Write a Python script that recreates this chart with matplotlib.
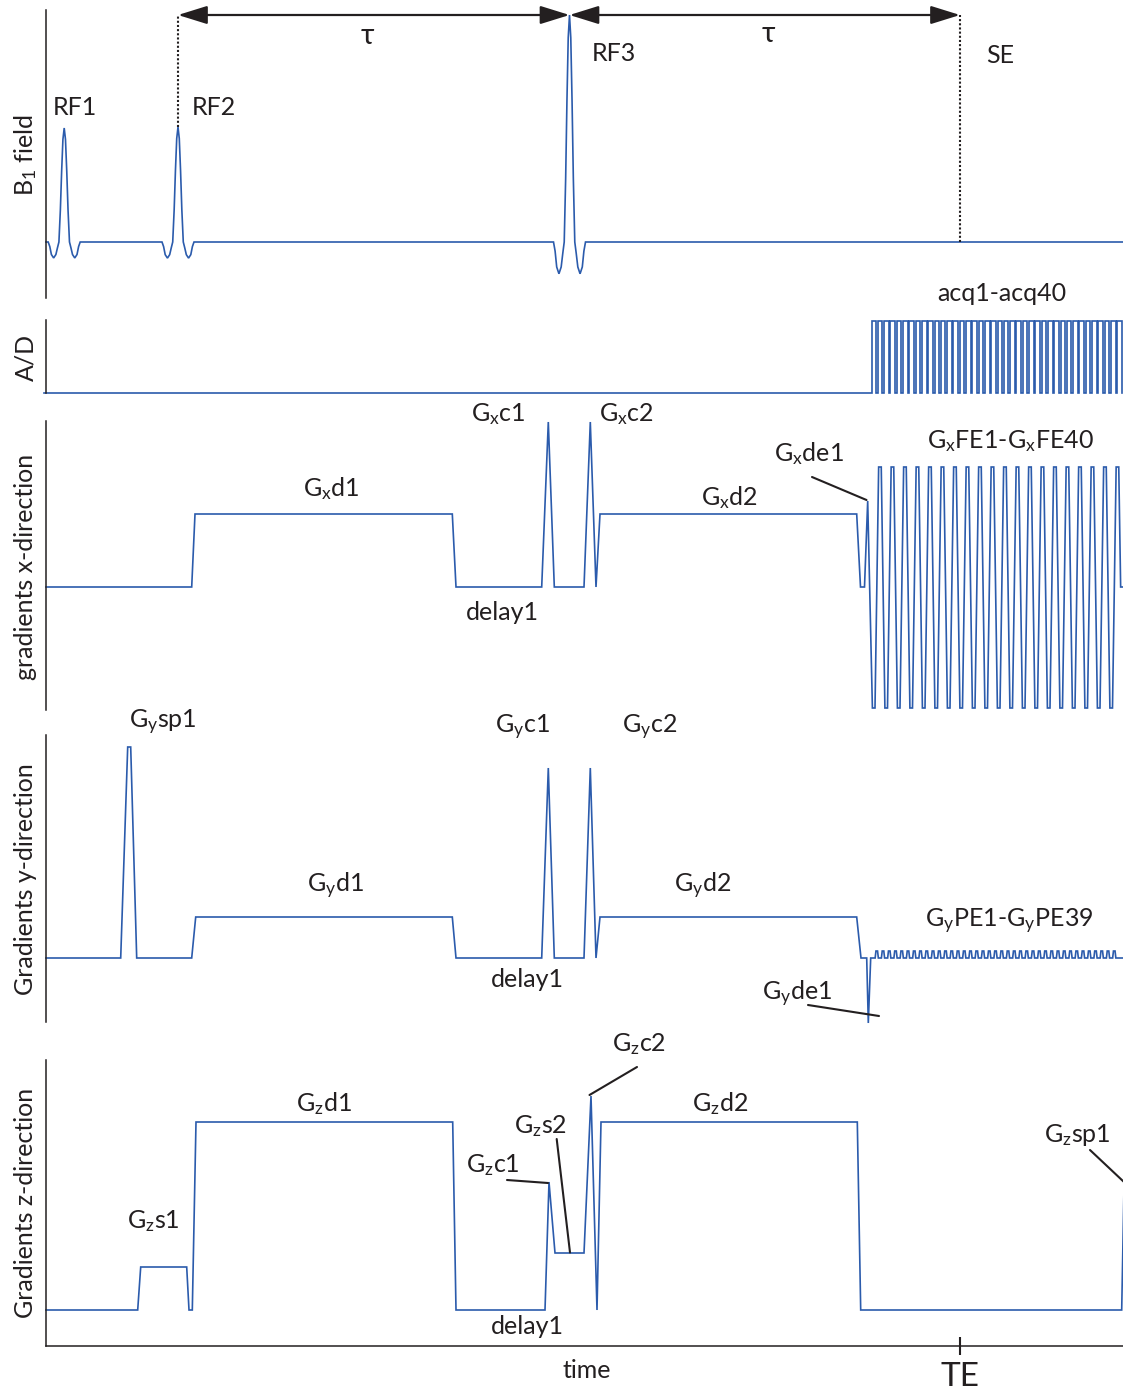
import matplotlib
matplotlib.use("Agg")
import matplotlib.pyplot as plt

plt.rcParams["font.family"] = ["Lato", "DejaVu Sans"]
plt.rcParams["mathtext.default"] = "regular"

W, H = 1123, 1390
BLUE = "#2b5bac"
INK = "#231f20"
FS = 18

# RF pulses on the B1 channel
rf_centres = [64.2, 178, 569.5]
rf_peaks = [114, 115, 227]
rf_halfwidth = 16
# normalised envelope of one truncated-sinc RF pulse
rf_env_t = [-1.0, -0.9, -0.8, -0.66, -0.52, -0.42, -0.33, -0.24, -0.16, -0.08, 0.0,
            0.08, 0.16, 0.24, 0.33, 0.42, 0.52, 0.66, 0.8, 0.9, 1.0]
rf_env_a = [0.0, -0.04, -0.11, -0.14, -0.11, -0.05, 0.0, 0.28, 0.62, 0.9, 1.0,
            0.9, 0.62, 0.28, 0.0, -0.05, -0.11, -0.14, -0.11, -0.04, 0.0]
tau_marks = [178, 569.5, 960]

# A/D gates acq1..acq40
n_acq = 40
acq_start = 871.5
acq_step = 6.3
acq_on = 4.6
acq_level = 72

# x gradient: breakpoints up to the dephaser, then the EPI readout train
gx_t = [46, 191.7, 195, 452.3, 456, 541.7, 548.3, 554.3, 584, 590.3, 596, 600,
        856.7, 860.5, 864.5, 867.7]
gx_a = [0, 0, 73, 73, 0, 0, 165, 0, 0, 165, 0, 73, 73, 0, 0, 86]
n_fe = 40
fe_start = 873.7
fe_step = 6.25
fe_flat = 1.3
fe_pos, fe_neg = 120, -121

# y gradient: spoiler, dephasers, crushers, then phase-encode blips
gy_t = [46, 120.7, 127.7, 130.7, 136.7, 191.7, 195.7, 452.3, 456, 541.7, 548.3,
        554.3, 584, 590.3, 596, 600, 856.7, 861, 866.7, 868.3, 870.7, 875]
gy_a = [0, 0, 211, 211, 0, 0, 41, 41, 0, 0, 190, 0, 0, 190, 0, 41, 41, 0, 0,
        -65, 0, 0]
n_pe = 39
pe_start = 876.75
pe_step = 6.25
pe_amp = 7

# z gradient
gz_t = [46, 137.7, 140.7, 186.7, 189, 192.3, 196, 452.7, 456, 545, 549, 555,
        584, 591, 597, 601, 857.3, 860.7, 1121.7, 1124.5]
gz_a = [0, 0, 43, 43, 0, 0, 188, 188, 0, 0, 128, 57, 57, 214, 0, 188, 188, 0,
        0, 150]

TE = 960

fig = plt.figure(figsize=(W / 100, H / 100), dpi=100)


def add_panel(top, bottom, base):
    ax = fig.add_axes([46 / W, 1 - bottom / H, (W - 46) / W, (bottom - top) / H])
    ax.set_xlim(46, W)
    ax.set_ylim(base - bottom, base - top)
    for side in ("top", "right", "bottom"):
        ax.spines[side].set_visible(False)
    ax.spines["left"].set_linewidth(1.1)
    ax.spines["left"].set_color(INK)
    ax.set_xticks([])
    ax.set_yticks([])
    ax.patch.set_visible(False)
    return ax


def trace(ax, t, a):
    ax.plot(t, a, color=BLUE, lw=1.2, clip_on=False, solid_joinstyle="miter")


def label(ax, x, y, s, size=FS):
    ax.text(x, y, s, fontsize=size, color=INK, ha="center", va="baseline")


def leader(ax, start, end):
    ax.annotate("", xy=end, xytext=start,
                arrowprops=dict(arrowstyle="-", color=INK, lw=1.5,
                                shrinkA=0, shrinkB=0),
                annotation_clip=False)


ax_b1 = add_panel(10, 298, 242)
ax_ad = add_panel(320, 393, 393)
ax_gx = add_panel(421, 710, 587)
ax_gy = add_panel(735, 1022, 958)
ax_gz = add_panel(1060, 1346, 1310)

# --- B1 field ---
b1_t, b1_a = [46], [0]
for c, p in zip(rf_centres, rf_peaks):
    b1_t += [c + rf_halfwidth * u for u in rf_env_t]
    b1_a += [p * v for v in rf_env_a]
b1_t.append(W)
b1_a.append(0)
trace(ax_b1, b1_t, b1_a)

top = rf_peaks[2]
ax_b1.plot([tau_marks[0]] * 2, [rf_peaks[1], top], color=INK, lw=1.5,
           ls=(0, (1, 1)), clip_on=False)
ax_b1.plot([tau_marks[2]] * 2, [0, top], color=INK, lw=1.5,
           ls=(0, (1, 1)), clip_on=False)
for a, b in zip(tau_marks[:-1], tau_marks[1:]):
    ax_b1.annotate("", xy=(a, top), xytext=(b, top),
                   arrowprops=dict(arrowstyle="<|-|>,head_length=0.9,head_width=0.28",
                                   color=INK, lw=1.6, shrinkA=0, shrinkB=0,
                                   mutation_scale=20),
                   annotation_clip=False)
label(ax_b1, 75, 127, "RF1")
label(ax_b1, 214, 127, "RF2")
label(ax_b1, 614, 181, "RF3")
label(ax_b1, 1000, 179, "SE")
label(ax_b1, 367, 198, "τ", size=FS + 3)
label(ax_b1, 768, 200, "τ", size=FS + 3)

# --- A/D ---
ad_t, ad_a = [44, acq_start], [0, 0]
for k in range(n_acq):
    s = acq_start + k * acq_step
    ad_t += [s, s, s + acq_on, s + acq_on]
    ad_a += [0, acq_level, acq_level, 0]
trace(ax_ad, ad_t, ad_a)
label(ax_ad, 1002, 92, "acq1-acq40")

# --- x gradient ---
fx_t, fx_a = list(gx_t), list(gx_a)
for k in range(n_fe):
    c = fe_start + k * fe_step
    amp = fe_pos if k % 2 else fe_neg
    fx_t += [c - fe_flat, c + fe_flat]
    fx_a += [amp, amp]
fx_t += [fx_t[-1] + 1.9, W]
fx_a += [0, 0]
trace(ax_gx, fx_t, fx_a)
label(ax_gx, 498, 166, "G$_x$c1")
label(ax_gx, 626, 166, "G$_x$c2")
label(ax_gx, 331, 91, "G$_x$d1")
label(ax_gx, 729, 82, "G$_x$d2")
label(ax_gx, 502, -33, "delay1")
label(ax_gx, 809, 126, "G$_x$de1")
label(ax_gx, 1010, 139, "G$_x$FE1-G$_x$FE40")
leader(ax_gx, (812, 110), (866.5, 87))

# --- y gradient ---
fy_t, fy_a = list(gy_t), list(gy_a)
for k in range(n_pe):
    c = pe_start + k * pe_step
    fy_t += [c - 1.6, c - 0.8, c + 0.8, c + 1.6]
    fy_a += [0, pe_amp, pe_amp, 0]
fy_t.append(W)
fy_a.append(0)
trace(ax_gy, fy_t, fy_a)
label(ax_gy, 162.5, 230, "G$_y$sp1")
label(ax_gy, 522, 225, "G$_y$c1")
label(ax_gy, 650, 225, "G$_y$c2")
label(ax_gy, 335, 66, "G$_y$d1")
label(ax_gy, 703, 66, "G$_y$d2")
label(ax_gy, 527, -29, "delay1")
label(ax_gy, 797.5, -42, "G$_y$de1")
label(ax_gy, 1009, 31, "G$_y$PE1-G$_y$PE39")
leader(ax_gy, (808, -47), (879, -58))

# --- z gradient ---
trace(ax_gz, gz_t, gz_a)
label(ax_gz, 153, 82, "G$_z$s1")
label(ax_gz, 324, 199, "G$_z$d1")
label(ax_gz, 720, 199, "G$_z$d2")
label(ax_gz, 527, -24, "delay1")
label(ax_gz, 492.5, 138, "G$_z$c1")
label(ax_gz, 540.5, 177, "G$_z$s2")
label(ax_gz, 639, 259, "G$_z$c2")
label(ax_gz, 1077.5, 168, "G$_z$sp1")
leader(ax_gz, (507, 130), (548, 127))
leader(ax_gz, (556.7, 171), (570, 57.5))
leader(ax_gz, (637, 243), (589.5, 215))
leader(ax_gz, (1090, 160), (1124, 128))

ax_gz.spines["bottom"].set_visible(True)
ax_gz.spines["bottom"].set_linewidth(1.1)
ax_gz.spines["bottom"].set_color(INK)
ax_gz.set_xticks([TE], ["TE"])
ax_gz.tick_params(axis="x", direction="inout", length=13, width=1.5,
                  labelsize=24, pad=5, colors=INK)


# channel names down the left side and the time axis name
def side_label(y, s):
    fig.text(33 / W, 1 - y / H, s, fontsize=FS, color=INK, rotation=90,
             rotation_mode="anchor", ha="center", va="baseline")


side_label(155, "B$_1$ field")
side_label(357, "A/D")
side_label(567, "gradients x-direction")
side_label(879, "Gradients y-direction")
side_label(1203, "Gradients z-direction")
fig.text(587 / W, 1 - 1378 / H, "time", fontsize=FS, color=INK,
         ha="center", va="baseline")

fig.savefig("out.png", dpi=100)
